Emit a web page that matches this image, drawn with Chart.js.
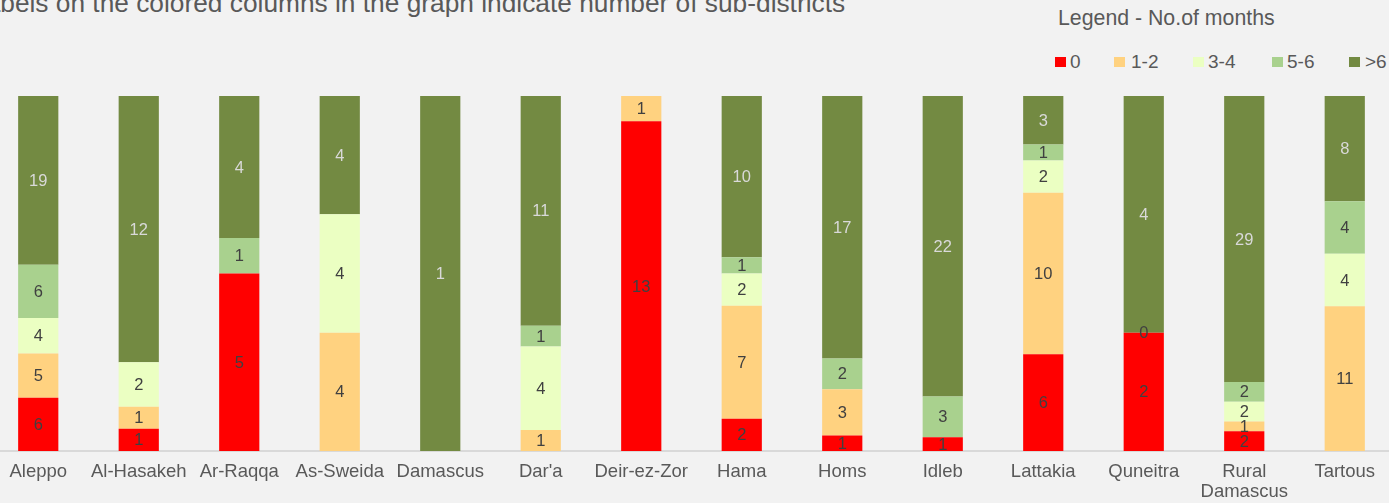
<!DOCTYPE html>
<html>
<head>
<meta charset="utf-8">
<script src="https://cdn.jsdelivr.net/npm/chart.js@4/dist/chart.umd.min.js"></script>
<style>
  html,body{margin:0;padding:0;background:#f2f2f2;overflow:hidden}
  body{width:1389px;height:503px;position:relative;font-family:'Liberation Sans',Arial,sans-serif;color:#595959}
  #title{position:absolute;left:-29px;top:-10px;font-size:26.3px;line-height:1;white-space:nowrap;color:#595959}
  #legTitle{position:absolute;left:1058px;top:8px;font-size:21.3px;line-height:1;white-space:nowrap}
  .li{position:absolute;top:52px;font-size:19px;line-height:1;white-space:nowrap}
  .sq{position:absolute;top:57px;width:11px;height:10px}
  #wrap{position:absolute;left:-12px;top:0;width:1407px;height:503px}
</style>
</head>
<body>
<div id="title">Labels on the colored columns in the graph indicate number of sub-districts</div>
<div id="legTitle">Legend - No.of months</div>
<div id="legend"></div>
<div id="wrap"><canvas id="c"></canvas></div>
<script>
// ── data ────────────────────────────────────────────────────────────────
const governorates = ['Aleppo','Al-Hasakeh','Ar-Raqqa','As-Sweida','Damascus',"Dar'a",'Deir-ez-Zor',
  'Hama','Homs','Idleb','Lattakia','Quneitra',['Rural','Damascus'],'Tartous'];
const seriesNames = ['0','1-2','3-4','5-6','>6'];
// number of sub-districts per band (null = no segment)
const months0   = [6, 1, 5, null, null, null, 13, 2, 1, 1, 6, 2, 2, null];
const months1_2 = [5, 1, null, 4, null, 1, 1, 7, 3, null, 10, 0, 1, 11];
const months3_4 = [4, 2, null, 4, null, 4, null, 2, null, null, 2, null, 2, 4];
const months5_6 = [6, null, 1, null, null, 1, null, 1, 2, 3, 1, null, 2, 4];
const monthsGt6 = [19, 12, 4, 4, 1, 11, null, 10, 17, 22, 3, 4, 29, 8];

const colors = ['#ff0000','#ffd280','#ebffc2','#a9d18e','#738a42'];
const labelColors = ['#404040','#404040','#404040','#404040','#d9d9d9'];

// ── build ───────────────────────────────────────────────────────────────
const counts = [months0, months1_2, months3_4, months5_6, monthsGt6];
const totals = governorates.map((_, i) => counts.reduce((s, arr) => s + (arr[i] || 0), 0));

// html legend
const legSq = [1055, 1114, 1193, 1272, 1349];
const legTx = [1070, 1131, 1208, 1287, 1365];
const leg = document.getElementById('legend');
seriesNames.forEach((n, k) => {
  const sq = document.createElement('div');
  sq.className = 'sq';
  sq.style.left = legSq[k] + 'px';
  sq.style.background = colors[k];
  leg.appendChild(sq);
  const t = document.createElement('div');
  t.className = 'li';
  t.style.left = legTx[k] + 'px';
  t.textContent = n;
  leg.appendChild(t);
});

const segLabels = {
  id: 'segLabels',
  afterDatasetsDraw(chart) {
    const ctx = chart.ctx;
    ctx.save();
    ctx.font = "16.5px 'Liberation Sans', Arial, sans-serif";
    ctx.textAlign = 'center';
    ctx.textBaseline = 'middle';
    chart.data.datasets.forEach((ds, k) => {
      const meta = chart.getDatasetMeta(k);
      meta.data.forEach((el, i) => {
        const v = counts[k][i];
        if (v === null || v === undefined) return;
        ctx.fillStyle = labelColors[k];
        ctx.fillText(String(v), el.x, (el.y + el.base) / 2 + 1);
      });
    });
    ctx.restore();
  }
};

new Chart(document.getElementById('c'), {
  type: 'bar',
  data: {
    labels: governorates,
    datasets: counts.map((arr, k) => ({
      label: seriesNames[k],
      data: arr.map((v, i) => v === null ? null : v / totals[i] * 100),
      backgroundColor: colors[k],
      borderWidth: 0,
      barPercentage: 0.40,
      categoryPercentage: 1.0
    }))
  },
  options: {
    responsive: true, maintainAspectRatio: false, animation: false,
    layout: {padding: {top: 96, left: 0, right: 0, bottom: 0}},
    plugins: {legend: {display: false}, tooltip: {enabled: false}},
    scales: {
      x: {
        stacked: true,
        grid: {display: false, drawTicks: false},
        border: {display: true, color: '#d9d9d9', width: 2},
        ticks: {color: '#595959', padding: 11, maxRotation: 0, autoSkip: false,
                font: {family: "'Liberation Sans', Arial, sans-serif", size: 18.5, lineHeight: 1.08}},
        afterFit(s) { s.height = 52; }
      },
      y: {stacked: true, display: false, min: 0, max: 100}
    }
  },
  plugins: [segLabels]
});
</script>
</body>
</html>
